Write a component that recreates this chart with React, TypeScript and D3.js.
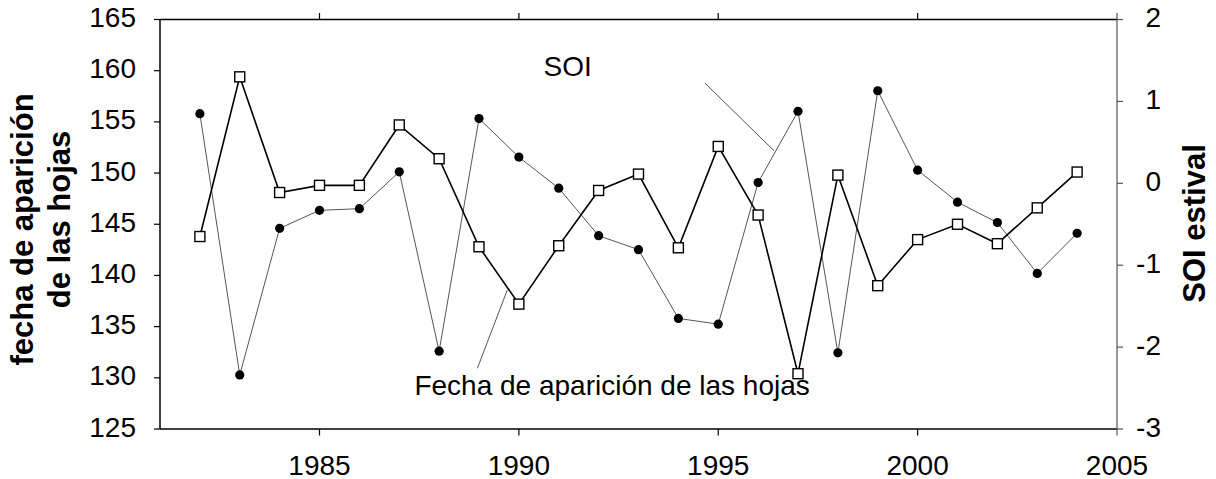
import React from "react";
import * as d3 from "d3";

const years = [1982, 1983, 1984, 1985, 1986, 1987, 1988, 1989, 1990, 1991, 1992, 1993, 1994, 1995, 1996, 1997, 1998, 1999, 2000, 2001, 2002, 2003, 2004];
const leafDate = [143.8, 159.4, 148.1, 148.8, 148.8, 154.7, 151.4, 142.8, 137.2, 142.9, 148.3, 149.9, 142.7, 152.6, 145.9, 130.4, 149.8, 139.0, 143.5, 145.0, 143.1, 146.6, 150.1];
const soi = [0.85, -2.34, -0.55, -0.33, -0.31, 0.14, -2.05, 0.79, 0.32, -0.06, -0.64, -0.81, -1.65, -1.72, 0.01, 0.88, -2.07, 1.13, 0.16, -0.23, -0.48, -1.10, -0.61];

const xTicks = [1985, 1990, 1995, 2000, 2005];
const leftTicks = [125, 130, 135, 140, 145, 150, 155, 160, 165];
const rightTicks = [-3, -2, -1, 0, 1, 2];

const leftTitle = ["fecha de aparición", "de las hojas"];
const rightTitle = "SOI estival";
const soiLabel = "SOI";
const leafLabel = "Fecha de aparición de las hojas";

// annotation anchors in data units (year, left-axis value)
const soiLabelPos = [1990.62, 159.48];
const soiLeader = [[1994.67, 158.77], [1996.4, 152.18]];
const leafLabelPos = [1987.38, 128.32];
const leafLeader = [[1988.96, 130.93], [1989.71, 138.58]];

const W = 1216;
const H = 479;
const L = 160, R = 1117, T = 19.5, B = 429;
const FONT = "'Liberation Sans', Arial, sans-serif";

export default function App() {
  const x = d3.scaleLinear().domain([1981, 2005]).range([L, R]);
  const yL = d3.scaleLinear().domain([125, 165]).range([B, T]);
  const yR = d3.scaleLinear().domain([-3, 2]).range([B, T]);

  const leafPts = years.map((yr, i) => [x(yr), yL(leafDate[i])] as [number, number]);
  const soiPts = years.map((yr, i) => [x(yr), yR(soi[i])] as [number, number]);
  const line = d3.line();

  return (
    <svg width={W} height={H} style={{ position: "absolute", left: 0, top: 0, background: "#fff" }} fontFamily={FONT}>
      <rect x={0} y={0} width={W} height={H} fill="#fff" />
      {/* frame */}
      <line x1={L} x2={R} y1={T} y2={T} stroke="#000" strokeWidth={1.5} />
      <line x1={L} x2={R} y1={B} y2={B} stroke="#000" strokeWidth={1.5} />
      <line x1={L} x2={L} y1={T} y2={B} stroke="#000" strokeWidth={1.5} />
      <line x1={R} x2={R} y1={T} y2={B} stroke="#555" strokeWidth={1.2} />

      {/* x ticks top & bottom */}
      {xTicks.map((t) => (
        <g key={"x" + t}>
          <line x1={x(t)} x2={x(t)} y1={T} y2={T - 6.5} stroke={t === 2005 ? "#555" : "#000"} strokeWidth={1.2} />
          <line x1={x(t)} x2={x(t)} y1={B} y2={B + 6.5} stroke={t === 2005 ? "#555" : "#000"} strokeWidth={1.2} />
          <text x={x(t)} y={475} textAnchor="middle" fontSize={28} fill="#000">{t}</text>
        </g>
      ))}

      {/* left ticks */}
      {leftTicks.map((t) => (
        <g key={"l" + t}>
          <line x1={L - 6} x2={L} y1={yL(t)} y2={yL(t)} stroke="#000" strokeWidth={1.2} />
          <text x={136} y={yL(t) + 7.6} textAnchor="end" fontSize={28} fill="#000">{t}</text>
        </g>
      ))}

      {/* right ticks */}
      {rightTicks.map((t) => (
        <g key={"r" + t}>
          <line x1={R} x2={R + 6} y1={yR(t)} y2={yR(t)} stroke="#555" strokeWidth={1.2} />
          <text x={1161} y={yR(t) + 7.6} textAnchor="end" fontSize={28} fill="#000">{t}</text>
        </g>
      ))}

      {/* titles */}
      <text transform={`translate(33,229.5) rotate(-90)`} textAnchor="middle" fontSize={31} fontWeight="bold" fill="#000">{leftTitle[0]}</text>
      <text transform={`translate(70,219.5) rotate(-90)`} textAnchor="middle" fontSize={31} fontWeight="bold" fill="#000">{leftTitle[1]}</text>
      <text transform={`translate(1205,223.5) rotate(-90)`} textAnchor="middle" fontSize={31} fontWeight="bold" fill="#000">{rightTitle}</text>

      {/* SOI series */}
      <path d={line(soiPts) || ""} fill="none" stroke="#555" strokeWidth={1} />
      {soiPts.map((p, i) => (
        <circle key={"c" + i} cx={p[0]} cy={p[1]} r={4.6} fill="#000" />
      ))}

      {/* leaf date series */}
      <path d={line(leafPts) || ""} fill="none" stroke="#000" strokeWidth={1.6} />
      {leafPts.map((p, i) => (
        <rect key={"s" + i} x={p[0] - 5} y={p[1] - 5} width={10} height={10} fill="#fff" stroke="#000" strokeWidth={1.4} />
      ))}

      {/* annotations */}
      <line x1={x(soiLeader[0][0])} y1={yL(soiLeader[0][1])} x2={x(soiLeader[1][0])} y2={yL(soiLeader[1][1])} stroke="#555" strokeWidth={1} />
      <line x1={x(leafLeader[0][0])} y1={yL(leafLeader[0][1])} x2={x(leafLeader[1][0])} y2={yL(leafLeader[1][1])} stroke="#555" strokeWidth={1} />
      <text x={x(soiLabelPos[0])} y={yL(soiLabelPos[1])} fontSize={28} fill="#000">{soiLabel}</text>
      <text x={x(leafLabelPos[0])} y={yL(leafLabelPos[1])} fontSize={28} fill="#000">{leafLabel}</text>
    </svg>
  );
}
